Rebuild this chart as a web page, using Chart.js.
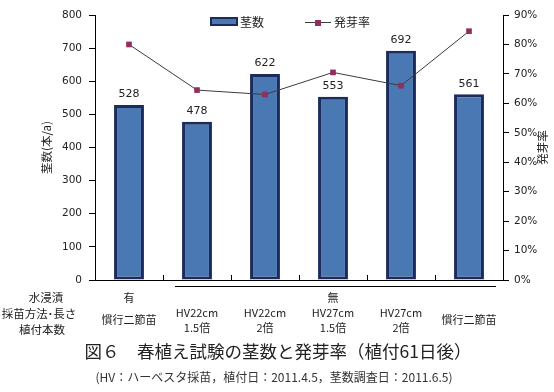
<!DOCTYPE html>
<html><head><meta charset="utf-8">
<script src="https://cdn.jsdelivr.net/npm/chart.js@4"></script>
<style>html,body{margin:0;padding:0;background:#fff}#wrap{width:554px;height:392px}</style>
</head><body><div id="wrap"><canvas id="c" width="554" height="392"></canvas></div>
<script>
const categories = [["慣行二節苗"], ["HV22cm", "1.5倍"], ["HV22cm", "2倍"], ["HV27cm", "1.5倍"], ["HV27cm", "2倍"], ["慣行二節苗"]];
const soakGroups = [{ label: "有", from: 0, to: 0 }, { label: "無", from: 1, to: 5 }];
const rowLabels = ["水浸漬", "採苗方法･長さ", "植付本数"];
const stemCounts = [528, 478, 622, 553, 692, 561];
const germinationRate = [80, 64.5, 63, 70.5, 66, 84.5];
const stemAxis = { min: 0, max: 800, step: 100 };
const rateAxis = { min: 0, max: 90, step: 10 };
const seriesNames = ["茎数", "発芽率"];
const axisTitles = ["茎数(本/a)", "発芽率"];
const chartTitle = "図６　春植え試験の茎数と発芽率（植付61日後）";
const chartNote = "(HV：ハーベスタ採苗，植付日：2011.4.5，茎数調査日：2011.6.5)";

const BAR_FILL = '#4a78b2', BAR_EDGE = '#1c2b5c', LINE = '#3c3c3c', MARK = '#8f2f5d', TXT = '#222';
const NUM_FONT = '"DejaVu Sans", "Noto Sans CJK JP", sans-serif';
const JP_FONT = '"Noto Sans CJK JP", sans-serif';

const overlay = {
  id: 'overlay',
  afterDraw(chart) {
    const ctx = chart.ctx, x = chart.scales.x, ca = chart.chartArea;
    ctx.save();
    // inward x ticks
    ctx.strokeStyle = '#000'; ctx.lineWidth = 1;
    for (let i = 1; i < categories.length; i++) {
      const px = Math.round(x.getPixelForValue(i - 0.5)) + 0.5;
      ctx.beginPath(); ctx.moveTo(px, ca.bottom); ctx.lineTo(px, ca.bottom - 5); ctx.stroke();
    }
    // data labels
    ctx.fillStyle = TXT; ctx.textAlign = 'center'; ctx.textBaseline = 'bottom';
    ctx.font = '11px ' + NUM_FONT;
    chart.getDatasetMeta(0).data.forEach((b, i) => ctx.fillText(String(stemCounts[i]), b.x, b.y - 5));
    // category rows
    ctx.font = '11px ' + JP_FONT; ctx.textBaseline = 'middle';
    categories.forEach((lines, i) => {
      const cx = x.getPixelForValue(i);
      if (lines.length === 1) ctx.fillText(lines[0], cx, 320);
      else { ctx.fillText(lines[0], cx, 313); ctx.fillText(lines[1], cx, 328); }
    });
    soakGroups.forEach(g => {
      const cx = (x.getPixelForValue(g.from) + x.getPixelForValue(g.to)) / 2;
      ctx.fillText(g.label, cx, 298);
      if (g.to > g.from) {
        ctx.beginPath(); ctx.moveTo(175, 286.5); ctx.lineTo(496, 286.5); ctx.stroke();
      }
    });
    ctx.font = '11.5px ' + JP_FONT;
    ctx.fillText(rowLabels[0], 46, 298);
    ctx.fillText(rowLabels[1], 39, 314);
    ctx.fillText(rowLabels[2], 42, 330);
    // axis titles
    ctx.font = '11.5px ' + JP_FONT;
    ctx.save(); ctx.translate(47, (ca.top + ca.bottom) / 2); ctx.rotate(-Math.PI / 2);
    ctx.fillText(axisTitles[0], 0, 0); ctx.restore();
    ctx.save(); ctx.translate(543, (ca.top + ca.bottom) / 2); ctx.rotate(-Math.PI / 2);
    ctx.fillText(axisTitles[1], 0, 0); ctx.restore();
    // legend
    ctx.fillStyle = BAR_FILL; ctx.fillRect(211, 18, 26, 7);
    ctx.strokeStyle = BAR_EDGE; ctx.lineWidth = 2; ctx.strokeRect(211, 18, 26, 7);
    ctx.fillStyle = TXT; ctx.textAlign = 'left'; ctx.font = '12px ' + JP_FONT;
    ctx.fillText(seriesNames[0], 240, 22);
    ctx.strokeStyle = LINE; ctx.lineWidth = 1;
    ctx.beginPath(); ctx.moveTo(305, 22.5); ctx.lineTo(331, 22.5); ctx.stroke();
    ctx.fillStyle = MARK; ctx.fillRect(315, 20, 6, 6);
    ctx.fillStyle = TXT; ctx.fillText(seriesNames[1], 334, 22);
    // title and note
    ctx.textAlign = 'center';
    ctx.font = '17.5px ' + JP_FONT; ctx.fillStyle = '#222';
    ctx.fillText(chartTitle, 278, 351);
    ctx.font = '12px ' + JP_FONT; ctx.fillStyle = '#333';
    ctx.fillText(chartNote, 274, 377);
    ctx.restore();
  }
};

new Chart(document.getElementById('c'), {
  data: {
    labels: categories.map(c => c.join(' ')),
    datasets: [
      { type: 'bar', label: seriesNames[0], data: stemCounts, yAxisID: 'y', backgroundColor: BAR_FILL,
        borderColor: BAR_EDGE, borderWidth: 3, borderSkipped: false, barPercentage: 0.44, categoryPercentage: 1, order: 2 },
      { type: 'line', label: seriesNames[1], data: germinationRate, yAxisID: 'y1', borderColor: LINE,
        borderWidth: 1, pointStyle: 'rect', pointRadius: 4, pointBackgroundColor: MARK, pointBorderColor: MARK,
        pointBorderWidth: 0, tension: 0, order: 1 }
    ]
  },
  options: {
    responsive: false, animation: false, devicePixelRatio: 1,
    layout: { padding: { top: 15, left: 0, right: 0, bottom: 0 } },
    plugins: { legend: { display: false }, tooltip: { enabled: false } },
    scales: {
      x: { offset: true, grid: { display: false }, ticks: { display: false },
        border: { color: '#000', width: 1 }, afterFit: s => { s.height = 112; } },
      y: { position: 'left', min: stemAxis.min, max: stemAxis.max,
        ticks: { stepSize: stemAxis.step, color: TXT, padding: 7, font: { family: NUM_FONT, size: 10.5 } },
        grid: { drawOnChartArea: false, tickLength: 6, color: '#000' }, border: { color: '#000', width: 1 },
        afterFit: s => { s.width = 95; } },
      y1: { position: 'right', min: rateAxis.min, max: rateAxis.max,
        ticks: { stepSize: rateAxis.step, color: TXT, padding: 5, font: { family: NUM_FONT, size: 10.5 }, callback: v => v + '%' },
        grid: { drawOnChartArea: false, tickLength: 6, color: '#000' }, border: { color: '#000', width: 1 },
        afterFit: s => { s.width = 51; } }
    }
  },
  plugins: [overlay]
});
</script></body></html>
